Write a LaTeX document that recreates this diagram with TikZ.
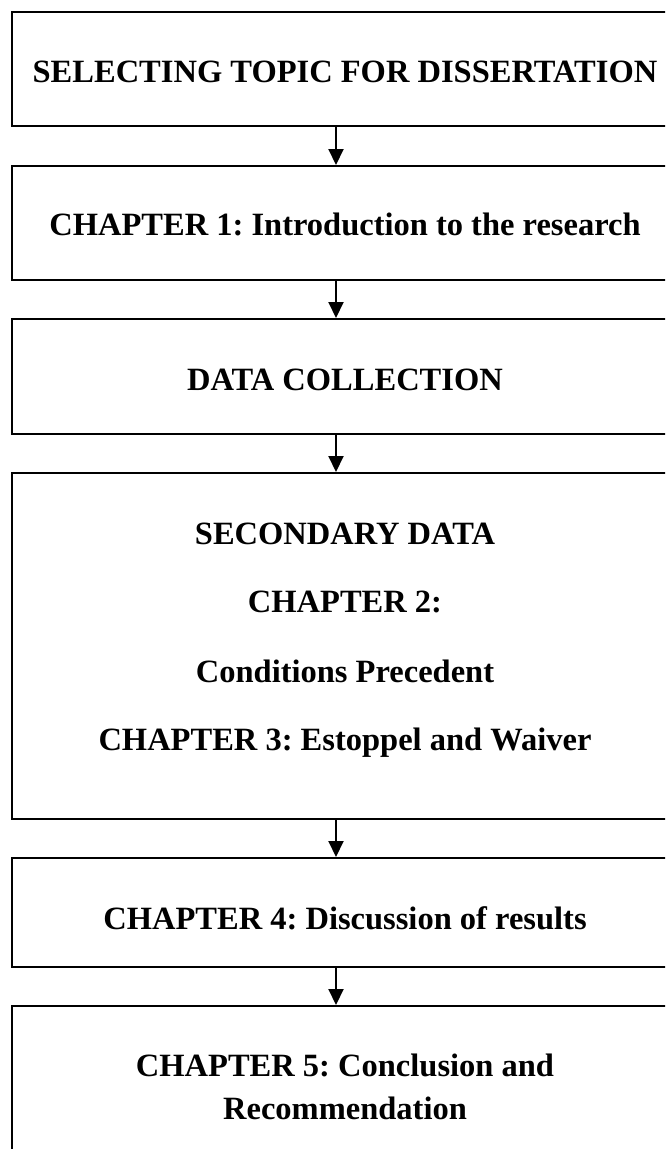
\documentclass[tikz,border=0pt]{standalone}
\usepackage{fontspec}
\setmainfont{Liberation Serif}
\frenchspacing
\usetikzlibrary{arrows.meta}
\tikzset{
  box/.style={draw=black, line width=2pt, rectangle, minimum width=666pt, inner sep=0pt},
  lbl/.style={anchor=base, inner sep=0pt, font=\fontsize{32.5}{39}\selectfont\bfseries},
  arr/.style={draw=black, line width=2pt, -{Triangle[length=16pt,width=15pt]}}
}
\begin{document}
\begin{tikzpicture}[x=1pt,y=-1pt]
\useasboundingbox (0,0) rectangle (665,1149);
\clip (0,0) rectangle (665,1149);
\coordinate (ax) at (336,0);
\node[box, minimum height=114pt] (b1) at (345,69) {};
\node[box, minimum height=114pt] (b2) at (345,223) {};
\node[box, minimum height=115pt] (b3) at (345,376.5) {};
\node[box, minimum height=346pt] (b4) at (345,646) {};
\node[box, minimum height=109pt] (b5) at (345,912.5) {};
\node[box, minimum height=174pt] (b6) at (345,1093) {};
\node[lbl] (t1) at (345,82.5) {SELECTING TOPIC FOR DISSERTATION};
\node[lbl] (t2) at (345,235.5) {CHAPTER 1: Introduction to the research};
\node[lbl] (t3) at (345,390.5) {DATA COLLECTION};
\node[lbl] (t4a) at (345,544) {SECONDARY DATA};
\node[lbl] (t4b) at (345,612) {CHAPTER 2:};
\node[lbl] (t4c) at (345,682) {Conditions Precedent};
\node[lbl] (t4d) at (345,750) {CHAPTER 3: Estoppel and Waiver};
\node[lbl] (t5) at (345,929) {CHAPTER 4: Discussion of results};
\node[lbl] (t6a) at (345,1076) {CHAPTER 5: Conclusion and};
\node[lbl] (t6b) at (345,1119) {Recommendation};
\draw[arr] (b1.south -| ax) -- (b2.north -| ax);
\draw[arr] (b2.south -| ax) -- (b3.north -| ax);
\draw[arr] (b3.south -| ax) -- (b4.north -| ax);
\draw[arr] (b4.south -| ax) -- (b5.north -| ax);
\draw[arr] (b5.south -| ax) -- (b6.north -| ax);
\end{tikzpicture}
\end{document}
